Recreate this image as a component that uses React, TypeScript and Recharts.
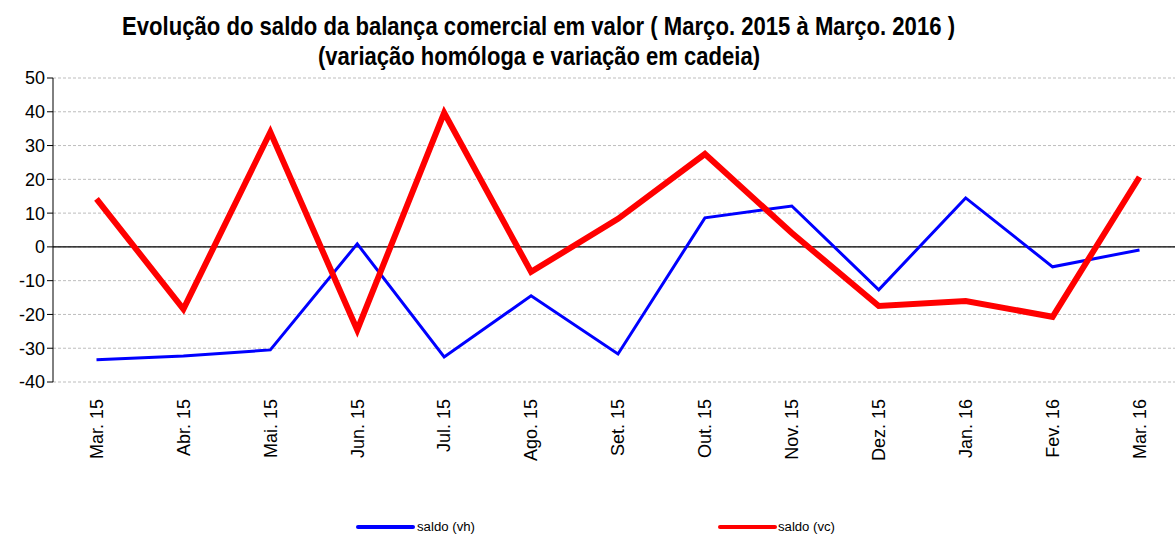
import { LineChart, Line, XAxis, YAxis, CartesianGrid, ReferenceLine } from "recharts"

const months = ["Mar. 15", "Abr. 15", "Mai. 15", "Jun. 15", "Jul. 15", "Ago. 15", "Set. 15", "Out. 15", "Nov. 15", "Dez. 15", "Jan. 16", "Fev. 16", "Mar. 16"]
const saldoVh = [-33.4, -32.3, -30.5, 0.9, -32.6, -14.5, -31.7, 8.6, 12.1, -12.7, 14.5, -5.9, -0.9]
const saldoVc = [14.2, -18.4, 34, -24.6, 39.7, -7.4, 8.3, 27.5, 4.1, -17.5, -16, -20.7, 20.7]
const yTicks = [-40, -30, -20, -10, 0, 10, 20, 30, 40, 50]

const data = months.map((m, i) => ({ month: m, vh: saldoVh[i], vc: saldoVc[i] }))

const font = "'Liberation Sans', Arial, sans-serif"

function MonthTick({ x, y, payload }: any) {
  return (
    <g transform={`translate(${x},${y})`}>
      <text transform="rotate(-90)" x={-9} y={0} dy="0.35em" textAnchor="end" fontSize={18} fontFamily={font} fill="#000">
        {payload.value}
      </text>
    </g>
  )
}

export default function App() {
  return (
    <div style={{ position: "absolute", left: 0, top: 0, width: 1175, height: 536, overflow: "hidden", background: "#fff" }}>
      <svg width={1175} height={80} style={{ position: "absolute", left: 0, top: 0 }}>
        <text x={122} y={35} fontSize={25} fontWeight="bold" fontFamily={font} textLength={833} lengthAdjust="spacingAndGlyphs" fill="#000">
          Evolução do saldo da balança comercial  em valor ( Março. 2015 à Março. 2016 )
        </text>
        <text x={318} y={65} fontSize={25} fontWeight="bold" fontFamily={font} textLength={442} lengthAdjust="spacingAndGlyphs" fill="#000">
          (variação homóloga e variação em cadeia)
        </text>
      </svg>
      <LineChart width={1183} height={536} data={data} margin={{ top: 78, right: 0, bottom: 0, left: 0 }}>
        <CartesianGrid vertical={false} stroke="#bdbdbd" strokeDasharray="3 2" />
        <XAxis
          dataKey="month"
          height={154}
          axisLine={false}
          tickLine={false}
          interval={0}
          padding={{ left: 43.5, right: 43.5 }}
          tick={<MonthTick />}
        />
        <YAxis
          width={53}
          domain={[-40, 50]}
          ticks={yTicks}
          interval={0}
          axisLine={{ stroke: "#000" }}
          tickLine={{ stroke: "#000" }}
          tickSize={6}
          tick={{ fontSize: 18, fontFamily: font, fill: "#000" }}
        />
        <ReferenceLine y={0} stroke="#000" strokeWidth={1.2} />
        <Line dataKey="vh" stroke="#0000ff" strokeWidth={3} dot={false} isAnimationActive={false} />
        <Line dataKey="vc" stroke="#ff0000" strokeWidth={6} dot={false} isAnimationActive={false} />
      </LineChart>
      <svg width={1175} height={30} style={{ position: "absolute", left: 0, top: 512 }}>
        <line x1={358} y1={15} x2={413} y2={15} stroke="#0000ff" strokeWidth={4} strokeLinecap="round" />
        <text x={417} y={19} fontSize={12} fontFamily={font} textLength={58} lengthAdjust="spacingAndGlyphs" fill="#000">saldo (vh)</text>
        <line x1={720} y1={15} x2={775} y2={15} stroke="#ff0000" strokeWidth={4} strokeLinecap="round" />
        <text x={778} y={19} fontSize={12} fontFamily={font} textLength={57} lengthAdjust="spacingAndGlyphs" fill="#000">saldo (vc)</text>
      </svg>
    </div>
  )
}
